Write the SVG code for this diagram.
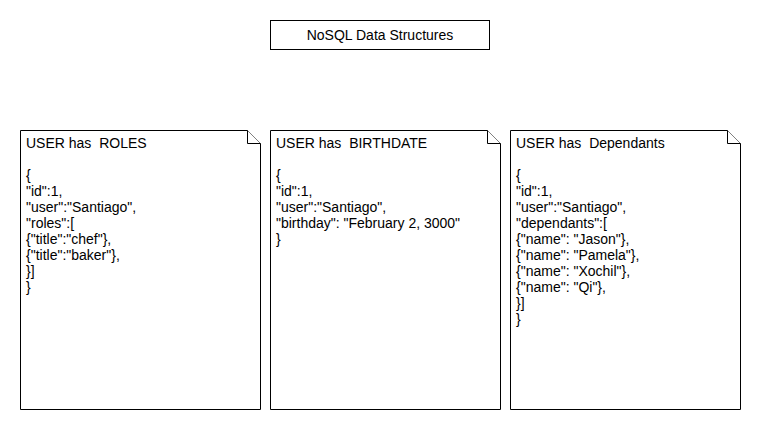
<svg xmlns="http://www.w3.org/2000/svg" width="760" height="430" viewBox="0 0 760 430">
<style>
.shape{fill:#fff;stroke:#000;stroke-width:1}
.t{font-family:"Liberation Sans",Arial,Helvetica,sans-serif;font-size:14px;fill:#000}
</style>
<rect width="760" height="430" fill="#fff"/>
<g id="title">
<rect class="shape" x="270.5" y="20.5" width="219" height="29"/>
<text class="t" x="380" y="39.5" text-anchor="middle">NoSQL Data Structures</text>
</g>
<g id="note-roles">
<path class="shape" d="M20.5 130.5 H247.5 L260.5 143.5 V409.5 H20.5 Z"/>
<path class="shape" d="M247.5 130.5 V143.5 H260.5" fill="none"/>
<text class="t" x="26" y="148" xml:space="preserve">USER has  ROLES</text>
<text class="t" x="26" y="180">{</text>
<text class="t" x="26" y="196">"id":1,</text>
<text class="t" x="26" y="212">"user":"Santiago",</text>
<text class="t" x="26" y="228">"roles":[</text>
<text class="t" x="26" y="244">{"title":"chef"},</text>
<text class="t" x="26" y="260">{"title":"baker"},</text>
<text class="t" x="26" y="276">}]</text>
<text class="t" x="26" y="292">}</text>
</g>
<g id="note-birthdate">
<path class="shape" d="M270.5 130.5 H487.5 L500.5 143.5 V409.5 H270.5 Z"/>
<path class="shape" d="M487.5 130.5 V143.5 H500.5" fill="none"/>
<text class="t" x="276" y="148" xml:space="preserve">USER has  BIRTHDATE</text>
<text class="t" x="276" y="180">{</text>
<text class="t" x="276" y="196">"id":1,</text>
<text class="t" x="276" y="212">"user":"Santiago",</text>
<text class="t" x="276" y="228">"birthday": "February 2, 3000"</text>
<text class="t" x="276" y="244">}</text>
</g>
<g id="note-dependants">
<path class="shape" d="M510.5 130.5 H727.5 L740.5 143.5 V409.5 H510.5 Z"/>
<path class="shape" d="M727.5 130.5 V143.5 H740.5" fill="none"/>
<text class="t" x="516" y="148" xml:space="preserve">USER has  Dependants</text>
<text class="t" x="516" y="180">{</text>
<text class="t" x="516" y="196">"id":1,</text>
<text class="t" x="516" y="212">"user":"Santiago",</text>
<text class="t" x="516" y="228">"dependants":[</text>
<text class="t" x="516" y="244">{"name": "Jason"},</text>
<text class="t" x="516" y="260">{"name": "Pamela"},</text>
<text class="t" x="516" y="276">{"name": "Xochil"},</text>
<text class="t" x="516" y="292">{"name": "Qi"},</text>
<text class="t" x="516" y="308">}]</text>
<text class="t" x="516" y="324">}</text>
</g>
<g id="connectors"></g>
</svg>
